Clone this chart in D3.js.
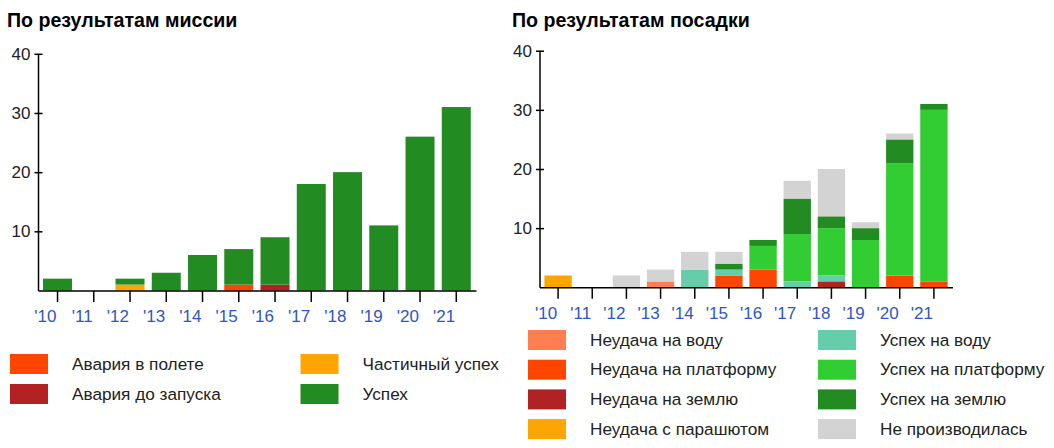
<!DOCTYPE html>
<html>
<head>
<meta charset="utf-8">
<script src="https://cdn.jsdelivr.net/npm/d3@7"></script>
<style>
  body { margin: 0; background: #fff; }
  svg { display: block; font-family: "Liberation Sans", Arial, sans-serif; }
</style>
</head>
<body>
<script>
// years on the x axis
const years = ["'10", "'11", "'12", "'13", "'14", "'15", "'16", "'17", "'18", "'19", "'20", "'21"];
const yTicks = [10, 20, 30, 40];

// mission outcome, per year
const missionInFlight  = [0, 0, 0, 0, 0, 1, 0, 0, 0, 0, 0, 0];
const missionPrelaunch = [0, 0, 0, 0, 0, 0, 1, 0, 0, 0, 0, 0];
const missionPartial   = [0, 0, 1, 0, 0, 0, 0, 0, 0, 0, 0, 0];
const missionSuccess   = [2, 0, 1, 3, 6, 6, 8, 18, 20, 11, 26, 31];
const missionLabels = ["Авария в полете", "Авария до запуска", "Частичный успех", "Успех"];
const missionColors = ["#ff4500", "#b22222", "#ffa500", "#228b22"];

// landing outcome, per year
const oceanFail       = [0, 0, 0, 1, 0, 0, 0, 0, 0, 0, 0, 0];
const platformFail    = [0, 0, 0, 0, 0, 2, 3, 0, 0, 0, 2, 1];
const groundFail      = [0, 0, 0, 0, 0, 0, 0, 0, 1, 0, 0, 0];
const parachuteFail   = [2, 0, 0, 0, 0, 0, 0, 0, 0, 0, 0, 0];
const oceanSuccess    = [0, 0, 0, 0, 3, 1, 0, 1, 1, 0, 0, 0];
const platformSuccess = [0, 0, 0, 0, 0, 0, 4, 8, 8, 8, 19, 29];
const groundSuccess   = [0, 0, 0, 0, 0, 1, 1, 6, 2, 2, 4, 1];
const noAttempt       = [0, 0, 2, 2, 3, 2, 0, 3, 8, 1, 1, 0];
const landingLabels = ["Неудача на воду", "Неудача на платформу", "Неудача на землю", "Неудача с парашютом",
                       "Успех на воду", "Успех на платформу", "Успех на землю", "Не производилась"];
const landingColors = ["#ff7f50", "#ff4500", "#b22222", "#ffa500", "#66cdaa", "#32cd32", "#228b22", "#d3d3d3"];

const width = 1054, height = 448;

const svg = d3.select("body").append("svg")
    .attr("width", width)
    .attr("height", height);

function toRows(series) {
  return years.map((yr, i) => {
    const r = {year: yr};
    series.forEach((s, k) => r[k] = s[i]);
    return r;
  });
}

function panel(opt) {
  const g = svg.append("g");
  const keys = opt.series.map((s, k) => k);
  const stacked = d3.stack().keys(keys)(toRows(opt.series));

  const x = d3.scaleBand()
      .domain(years)
      .range(opt.xRange)
      .paddingInner(0.2)
      .paddingOuter(0.1);
  const y = d3.scaleLinear()
      .domain([0, 40])
      .range(opt.yRange);

  g.append("text")
      .attr("x", opt.titleX)
      .attr("y", 27)
      .attr("font-size", 19.6)
      .attr("font-weight", "bold")
      .attr("fill", "#000")
      .text(opt.title);

  g.append("g")
    .selectAll("g")
    .data(stacked)
    .join("g")
      .attr("fill", d => opt.colors[d.key])
    .selectAll("rect")
    .data(d => d.filter(v => v[1] > v[0]))
    .join("rect")
      .attr("x", d => x(d.data.year))
      .attr("y", d => y(d[1]))
      .attr("width", x.bandwidth())
      .attr("height", d => y(d[0]) - y(d[1]));

  // x axis
  const xa = g.append("g")
      .attr("transform", `translate(0,${opt.axisY})`)
      .call(d3.axisBottom(x).tickSize(11).tickSizeOuter(0));
  xa.select(".domain")
      .attr("d", `M${opt.axisX},0H${opt.axisEnd}`)
      .attr("stroke", "#000").attr("stroke-width", 1.5);
  xa.selectAll(".tick line").attr("stroke", "#000").attr("stroke-width", 1.5);
  xa.selectAll(".tick text")
      .attr("text-anchor", "end")
      .attr("x", -1)
      .attr("y", 19)
      .attr("font-size", 17)
      .attr("font-family", null)
      .attr("fill", "#2e56c4");

  // y axis
  const ya = g.append("g")
      .attr("transform", `translate(${opt.axisX},0)`)
      .call(d3.axisLeft(y).tickValues(yTicks).tickSize(4).tickSizeOuter(0));
  ya.select(".domain")
      .attr("d", `M0,${y(40)}V${opt.axisY}`)
      .attr("stroke", "#000").attr("stroke-width", 1.5);
  ya.selectAll(".tick line").attr("x1", 4).attr("stroke", "#000").attr("stroke-width", 1.5);
  ya.selectAll(".tick text")
      .attr("x", -8)
      .attr("font-size", 17)
      .attr("font-family", null)
      .attr("fill", "#222");

  // legend
  const lg = g.append("g");
  opt.labels.forEach((lab, k) => {
    const col = Math.floor(k / opt.perCol), row = k % opt.perCol;
    const lx = opt.legX[col], ly = opt.legY + row * opt.legStep;
    lg.append("rect")
        .attr("x", lx).attr("y", ly)
        .attr("width", 38).attr("height", 20)
        .attr("fill", opt.colors[k]);
    lg.append("text")
        .attr("x", lx + opt.legText)
        .attr("y", ly + 15.5)
        .attr("font-size", 17.2)
        .attr("fill", "#222")
        .text(lab);
  });
}

panel({
  title: "По результатам миссии",
  titleX: 7,
  series: [missionInFlight, missionPrelaunch, missionPartial, missionSuccess],
  colors: missionColors,
  labels: missionLabels,
  xRange: [39.4, 474.4],
  yRange: [290.5, 53.8],
  axisX: 38.5,
  axisEnd: 476.5,
  axisY: 291,
  legX: [10, 300.5],
  legY: 354,
  legStep: 30,
  perCol: 2,
  legText: 62
});

panel({
  title: "По результатам посадки",
  titleX: 512,
  series: [oceanFail, platformFail, groundFail, parachuteFail, oceanSuccess, platformSuccess, groundSuccess, noAttempt],
  colors: landingColors,
  labels: landingLabels,
  xRange: [541, 951],
  yRange: [287.3, 50.7],
  axisX: 540,
  axisEnd: 953,
  axisY: 287.8,
  legX: [528, 818],
  legY: 330,
  legStep: 29.7,
  perCol: 4,
  legText: 62
});
</script>
</body>
</html>
